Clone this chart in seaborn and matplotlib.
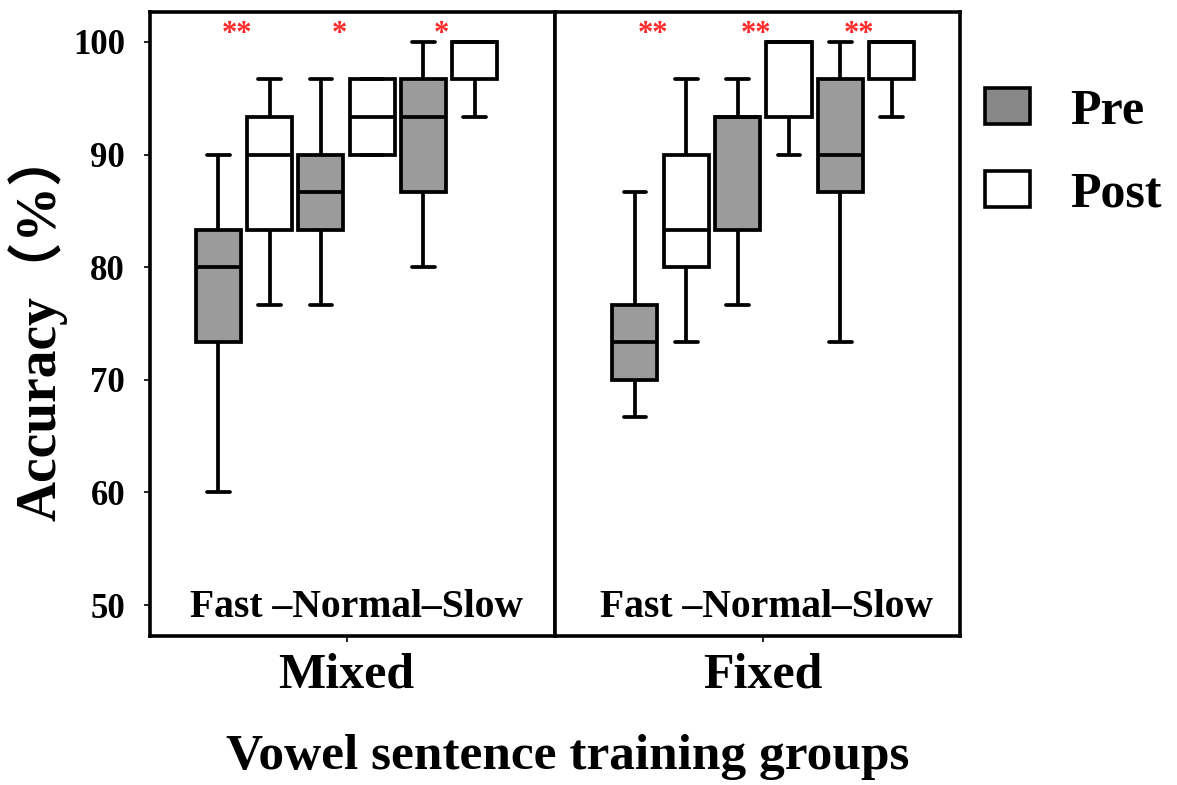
import numpy as np
import pandas as pd
import matplotlib
matplotlib.use("Agg")
import matplotlib.pyplot as plt
from matplotlib.patches import Patch
import seaborn as sns

# ---------------- data (accuracy %, five representative scores per box) ----------------
speeds = ["Fast", "Normal", "Slow"]
tests = ["Pre", "Post"]
groups = ["Mixed", "Fixed"]

mixed_fast_pre = [60.00, 73.33, 80.00, 83.33, 90.00]
mixed_fast_post = [76.67, 83.33, 90.00, 93.33, 96.67]
mixed_normal_pre = [76.67, 83.33, 86.67, 90.00, 96.67]
mixed_normal_post = [90.00, 90.00, 93.33, 96.67, 96.67]
mixed_slow_pre = [80.00, 86.67, 93.33, 96.67, 100.00]
mixed_slow_post = [93.33, 96.67, 100.00, 100.00, 100.00]

fixed_fast_pre = [66.67, 70.00, 73.33, 76.67, 86.67]
fixed_fast_post = [73.33, 80.00, 83.33, 90.00, 96.67]
fixed_normal_pre = [76.67, 83.33, 93.33, 93.33, 96.67]
fixed_normal_post = [90.00, 93.33, 100.00, 100.00, 100.00]
fixed_slow_pre = [73.33, 86.67, 90.00, 96.67, 100.00]
fixed_slow_post = [93.33, 96.67, 100.00, 100.00, 100.00]

mixed_sig = ["**", "*", "*"]
fixed_sig = ["**", "**", "**"]

yticks = [50, 60, 70, 80, 90, 100]
speed_axis_text = "Fast \u2013Normal\u2013Slow"
x_title = "Vowel sentence training groups"
y_title = "Accuracy\uff08%\uff09"

series = {
    ("Mixed", "Fast", "Pre"): mixed_fast_pre,
    ("Mixed", "Fast", "Post"): mixed_fast_post,
    ("Mixed", "Normal", "Pre"): mixed_normal_pre,
    ("Mixed", "Normal", "Post"): mixed_normal_post,
    ("Mixed", "Slow", "Pre"): mixed_slow_pre,
    ("Mixed", "Slow", "Post"): mixed_slow_post,
    ("Fixed", "Fast", "Pre"): fixed_fast_pre,
    ("Fixed", "Fast", "Post"): fixed_fast_post,
    ("Fixed", "Normal", "Pre"): fixed_normal_pre,
    ("Fixed", "Normal", "Post"): fixed_normal_post,
    ("Fixed", "Slow", "Pre"): fixed_slow_pre,
    ("Fixed", "Slow", "Post"): fixed_slow_post,
}
rows = []
for (g, s, t), vals in series.items():
    for v in vals:
        rows.append({"Group": g, "Speed": s, "Test": t, "Accuracy": v})
df = pd.DataFrame(rows)

# ---------------- style ----------------
sns.set_style("ticks")
plt.rcParams["font.family"] = ["Liberation Serif", "Noto Sans CJK SC", "DejaVu Serif"]
plt.rcParams["font.weight"] = "bold"
plt.rcParams["axes.linewidth"] = 2.6
for key in ["text.color", "axes.labelcolor", "xtick.color", "ytick.color", "axes.edgecolor"]:
    plt.rcParams[key] = "black"

palette = {"Pre": "#9b9b9b", "Post": "#ffffff"}
LW = 2.7

fig = plt.figure(figsize=(11.77, 7.85), dpi=100)
ax_pos = {
    "Mixed": [150 / 1177, 1 - 636 / 785, 405 / 1177, 624 / 785],
    "Fixed": [555 / 1177, 1 - 636 / 785, 405 / 1177, 624 / 785],
}
xlims = {"Mixed": (-0.917, 3.034), "Fixed": (-1.027, 2.915)}
sig = {"Mixed": mixed_sig, "Fixed": fixed_sig}
text_x = {"Mixed": 0.509, "Fixed": 0.521}

for i, g in enumerate(groups):
    ax = fig.add_axes(ax_pos[g])
    sub = df[df["Group"] == g]
    sns.boxplot(data=sub, x="Speed", y="Accuracy", hue="Test", order=speeds,
                hue_order=tests, palette=palette, width=1.0, gap=0.12,
                whis=(0, 100), linewidth=LW, linecolor="black",
                legend=False, ax=ax)
    ax.set_xlim(*xlims[g])
    ax.set_ylim(47.25, 102.66)
    ax.set_xlabel("")
    ax.set_ylabel("")
    ax.set_xticks([1])
    ax.set_xticklabels([g], fontsize=36, fontweight="bold")
    ax.tick_params(axis="x", length=4, width=1.2, pad=8)
    if i == 0:
        ax.set_yticks(yticks)
        ax.set_yticklabels([str(v) for v in yticks], fontsize=25, fontweight="bold")
        ax.tick_params(axis="y", length=4, width=1.2, pad=14)
    else:
        ax.set_yticks([])
    for sp in ax.spines.values():
        sp.set_visible(True)
        sp.set_linewidth(2.6)
        sp.set_color("black")
    for j, s in enumerate(sig[g]):
        ax.text(j - 0.07, 100.7, s, color="#ff2a2a", fontsize=22,
                ha="center", va="center", fontweight="bold")
    ax.text(text_x[g], 0.045, speed_axis_text, transform=ax.transAxes,
            ha="center", va="center", fontsize=28.5, fontweight="bold")

fig.text(568 / 1177, 1 - 757 / 785, x_title, ha="center", va="center",
         fontsize=37, fontweight="bold")
fig.text(38 / 1177, 1 - 325 / 785, y_title, ha="center", va="center",
         rotation=90, fontsize=40, fontweight="bold")

handles = [Patch(facecolor="#888888", edgecolor="black", linewidth=2.6, label="Pre"),
           Patch(facecolor="#ffffff", edgecolor="black", linewidth=2.6, label="Post")]
fig.legend(handles=handles, loc="upper left", bbox_to_anchor=(985 / 1177, 1 - 88 / 785),
           frameon=False, handlelength=0.9, handleheight=0.74,
           handletextpad=0.8, labelspacing=0.72, borderpad=0, borderaxespad=0,
           prop={"weight": "bold", "size": 36})

fig.savefig("out.png", dpi=100)
